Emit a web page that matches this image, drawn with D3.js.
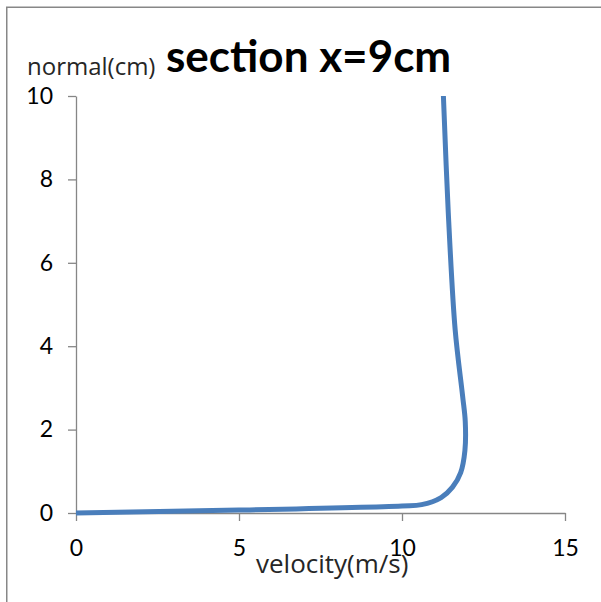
<!DOCTYPE html>
<html>
<head>
<meta charset="utf-8">
<script src="https://cdn.jsdelivr.net/npm/d3@7"></script>
<style>
  html, body { margin: 0; padding: 0; background: #ffffff; }
  svg { display: block; }
</style>
</head>
<body>
<svg id="chart" width="601" height="602"></svg>
<script>
// ---- data ----
const velocity = [0, 5.0, 10.0, 10.6, 11.2, 11.55, 11.8, 11.93, 11.94, 11.86, 11.63, 11.42, 11.27];
const normal   = [0, 0.07, 0.17, 0.2, 0.37, 0.62, 0.97, 1.5, 2.2, 2.8, 4.4, 7.2, 10];
const xTicks = [0, 5, 10, 15];
const yTicks = [0, 2, 4, 6, 8, 10];
const titleText = "section x=9cm";
const xTitle = "velocity(m/s)";
const yTitle = "normal(cm)";

const points = velocity.map((v, i) => ({ v, n: normal[i] }));

const svg = d3.select("#chart");
const W = 601, H = 602;

// chart frame (left and top border visible)
svg.append("path")
  .attr("d", `M6.75,${H} V7.25 H${W}`)
  .attr("fill", "none")
  .attr("stroke", "#878787")
  .attr("stroke-width", 1.5);

const x = d3.scaleLinear().domain([0, 15]).range([76, 565]);
const y = d3.scaleLinear().domain([0, 10]).range([513, 96]);

const axisColor = "#868686";
const tickFont = "Lato, 'Open Sans', sans-serif";

// x axis
const gx = svg.append("g")
  .attr("transform", `translate(0,${y(0)})`)
  .call(d3.axisBottom(x).tickValues(xTicks).tickSize(8).tickSizeOuter(0).tickPadding(19).tickFormat(d3.format("d")));
// y axis
const gy = svg.append("g")
  .attr("transform", `translate(${x(0)},0)`)
  .call(d3.axisLeft(y).tickValues(yTicks).tickSize(8).tickSizeOuter(0).tickPadding(15).tickFormat(d3.format("d")));

[gx, gy].forEach(g => {
  g.select(".domain").attr("stroke", axisColor).attr("stroke-width", 1.3);
  g.selectAll(".tick line").attr("stroke", axisColor).attr("stroke-width", 1.3);
  g.selectAll(".tick text")
    .attr("fill", "#000")
    .style("font-family", tickFont)
    .style("font-size", "23px");
});

// data line
const line = d3.line()
  .x(d => x(d.v))
  .y(d => y(d.n))
  .curve(d3.curveCatmullRom.alpha(0.5));

svg.append("path")
  .datum(points)
  .attr("d", line)
  .attr("fill", "none")
  .attr("stroke", "#4A7EBB")
  .attr("stroke-width", 5)
  .attr("stroke-linejoin", "round")
  .attr("stroke-linecap", "butt");

// titles
svg.append("text")
  .attr("x", 166).attr("y", 72)
  .attr("fill", "#000")
  .style("font-family", "Lato, 'Open Sans', sans-serif")
  .style("font-weight", "bold")
  .style("font-size", "44px")
  .text(titleText);

svg.append("text")
  .attr("x", 27).attr("y", 75)
  .attr("fill", "#262626")
  .style("font-family", "'Open Sans', sans-serif")
  .style("font-size", "24px")
  .text(yTitle);

svg.append("text")
  .attr("x", 256).attr("y", 573)
  .attr("fill", "#262626")
  .style("font-family", "'Open Sans', sans-serif")
  .style("font-size", "26px")
  .text(xTitle);
</script>
</body>
</html>
